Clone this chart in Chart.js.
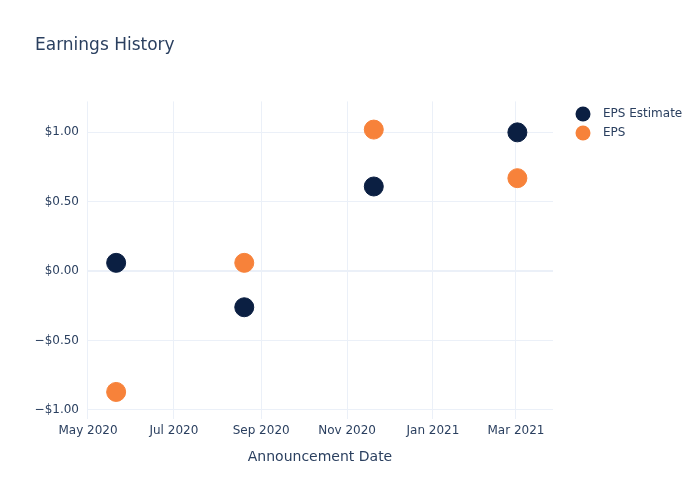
<!DOCTYPE html>
<html>
<head>
<meta charset="utf-8">
<script src="https://cdn.jsdelivr.net/npm/chart.js@4/dist/chart.umd.min.js"></script>
<style>
  html, body { margin: 0; padding: 0; background: #fff; }
  #wrap { width: 700px; height: 500px; }
</style>
</head>
<body>
<div id="wrap"><canvas id="earnings"></canvas></div>
<script>
// data
const dates = ["2020-05-21", "2020-08-20", "2020-11-20", "2021-03-02"];
const epsEstimate = [0.06, -0.26, 0.61, 1.00];
const epsActual = [-0.87, 0.06, 1.02, 0.67];
const yTicks = [-1, -0.5, 0, 0.5, 1];
const monthTicks = ["2020-05-01", "2020-07-01", "2020-09-01", "2020-11-01", "2021-01-01", "2021-03-01"];
const monthNames = ["Jan", "Feb", "Mar", "Apr", "May", "Jun", "Jul", "Aug", "Sep", "Oct", "Nov", "Dec"];

const navy = "#0b1f42";
const orange = "#f7823a";
const textColor = "#2a3f5f";
const gridColor = "#ebf0f8";
const DAY = 86400000;

const toMs = s => Date.parse(s + "T00:00:00Z");
const fmtMonth = v => {
  const d = new Date(v);
  return monthNames[d.getUTCMonth()] + " " + d.getUTCFullYear();
};
const fmtMoney = v => (v < 0 ? "\u2212$" : "$") + Math.abs(v).toFixed(2);

const estPoints = dates.map((d, i) => ({ x: toMs(d), y: epsEstimate[i] }));
const epsPoints = dates.map((d, i) => ({ x: toMs(d), y: epsActual[i] }));

// legend drawn by hand so the spacing looks like the original
const sideLegend = {
  id: "sideLegend",
  afterDraw(chart) {
    const ctx = chart.ctx;
    ctx.save();
    ctx.font = "12px 'DejaVu Sans'";
    ctx.textBaseline = "middle";
    chart.data.datasets.forEach((ds, i) => {
      const y = 114 + i * 19;
      ctx.beginPath();
      ctx.fillStyle = ds.backgroundColor;
      ctx.arc(583, y, 7.5, 0, Math.PI * 2);
      ctx.fill();
      ctx.fillStyle = textColor;
      ctx.fillText(ds.label, 603, y);
    });
    ctx.restore();
  }
};

const earningsCanvas = document.getElementById("earnings");

let earningsChart = new Chart(earningsCanvas, {
  type: "scatter",
  data: {
    datasets: [{
      label: "EPS Estimate",
      data: estPoints,
      backgroundColor: navy,
      borderColor: navy,
      pointRadius: 9.5,
      pointHoverRadius: 9.5
    }, {
      label: "EPS",
      data: epsPoints,
      backgroundColor: orange,
      borderColor: orange,
      pointRadius: 9.5,
      pointHoverRadius: 9.5
    }]
  },
  plugins: [sideLegend],
  options: {
    responsive: true,
    maintainAspectRatio: false,
    animation: false,
    layout: {
      padding: { left: 35, right: 147, top: 0, bottom: 0 }
    },
    plugins: {
      legend: { display: false },
      tooltip: { enabled: false },
      title: {
        display: true,
        text: "Earnings History",
        align: "start",
        color: textColor,
        font: { family: "DejaVu Sans", size: 17, weight: "normal" },
        padding: { top: 35, bottom: 46 }
      }
    },
    scales: {
      x: {
        type: "linear",
        min: toMs("2020-05-01") - 0.71 * DAY,
        max: toMs("2020-05-01") + 330.3 * DAY,
        afterBuildTicks: scale => {
          scale.ticks = monthTicks.map(m => ({ value: toMs(m) }));
        },
        afterFit: scale => { scale.height = 81; },
        border: { display: false },
        grid: { color: gridColor, lineWidth: 1, drawTicks: false },
        ticks: {
          color: textColor,
          font: { family: "DejaVu Sans", size: 12 },
          padding: 5,
          maxRotation: 0,
          autoSkip: false,
          callback: v => fmtMonth(v)
        },
        title: {
          display: true,
          text: "Announcement Date",
          color: textColor,
          font: { family: "DejaVu Sans", size: 14 },
          padding: { top: 4, bottom: 34 }
        }
      },
      y: {
        min: -1.065,
        max: 1.223,
        afterBuildTicks: scale => {
          scale.ticks = yTicks.map(v => ({ value: v }));
        },
        afterFit: scale => { scale.width = 52; },
        border: { display: false },
        grid: {
          color: gridColor,
          lineWidth: ctx => (ctx.tick && ctx.tick.value === 0 ? 2 : 1),
          drawTicks: false
        },
        ticks: {
          color: textColor,
          font: { family: "DejaVu Sans", size: 12 },
          padding: 8,
          callback: v => fmtMoney(v)
        }
      }
    }
  }
});
</script>
</body>
</html>
